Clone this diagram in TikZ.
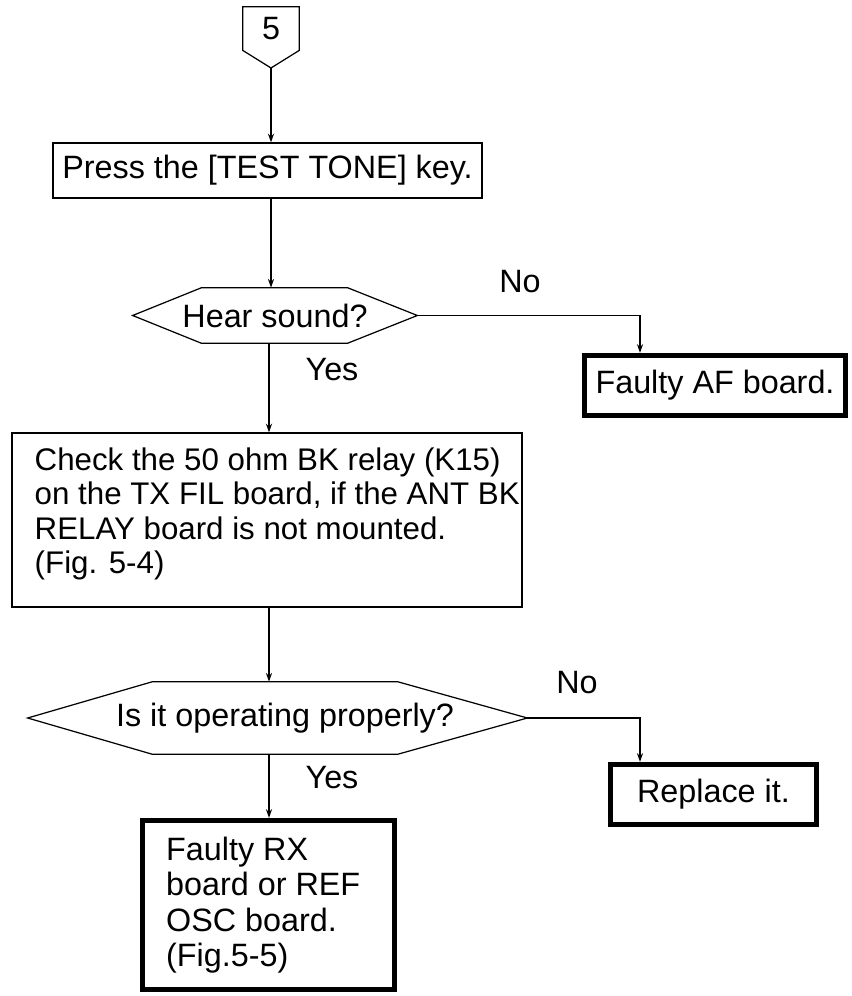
\documentclass[tikz,border=0pt]{standalone}
\usepackage{fontspec}
\setmainfont{Liberation Sans}
\usetikzlibrary{arrows.meta}
\begin{document}
\begin{tikzpicture}[x=0.02cm,y=-0.02cm,
  every node/.style={font=\fontsize{18.4}{20}\selectfont, inner sep=0pt},
  smalltext/.style={font=\fontsize{17.8}{19.6}\selectfont},
  thinbox/.style={draw, line width=0.7pt},
  thickbox/.style={draw, line width=3pt},
  ln/.style={line width=0.7pt},
  arr/.style={ln, -{Stealth[length=5pt,width=3.5pt]}}]
\useasboundingbox (0,0) rectangle (851,996);

% off-page connector
\node[minimum width=56*0.02cm, minimum height=43*0.02cm] (c5) at (271,28.5) {5};
\coordinate (c5tip) at (271,68);
\draw[ln] (c5.north west) -- (c5.north east) -- (c5.south east) -- (c5tip) -- (c5.south west) -- cycle;

\coordinate (colL) at (269,0);
\coordinate (colR) at (640,0);

% box 1
\node[thinbox, minimum width=429*0.02cm, minimum height=55*0.02cm] (b1) at (267.5,170.5) {Press the [TEST TONE] key.};

% decision 1
\node[minimum width=284*0.02cm, minimum height=55*0.02cm] (d1) at (275,315.5) {Hear sound?};
\draw[ln] (d1.west) -- ([xshift=69*0.02cm]d1.north west) -- ([xshift=-70*0.02cm]d1.north east) -- (d1.east)
  -- ([xshift=-70*0.02cm]d1.south east) -- ([xshift=69*0.02cm]d1.south west) -- cycle;

% faulty AF
\node[thickbox, minimum width=261*0.02cm, minimum height=60*0.02cm] (af) at (715,385.5) {Faulty AF board.};

% box 2
\node[thinbox, minimum width=510*0.02cm, minimum height=174*0.02cm] (b2) at (267,520) {};
\node[smalltext, anchor=west, align=left] (b2t) at ([xshift=23*0.02cm, yshift=6*0.02cm]b2.west)
  {Check the 50 ohm BK relay (K15)\\on the TX FIL board, if the ANT BK\\RELAY board is not mounted.\\(Fig. 5-4)};

% decision 2
\node[minimum width=499*0.02cm, minimum height=72*0.02cm] (d2) at (277.5,718) {};
\node (d2t) at (285,718) {Is it operating properly?};
\draw[ln] (d2.west) -- ([xshift=125*0.02cm]d2.north west) -- ([xshift=-130*0.02cm]d2.north east) -- (d2.east)
  -- ([xshift=-130*0.02cm]d2.south east) -- ([xshift=125*0.02cm]d2.south west) -- cycle;

% replace it
\node[thickbox, minimum width=206*0.02cm, minimum height=60*0.02cm] (rp) at (713.5,794.5) {Replace it.};

% faulty RX
\node[thickbox, minimum width=252*0.02cm, minimum height=169*0.02cm] (b3) at (268.5,905) {};
\node[anchor=west, align=left, font=\fontsize{18.4}{20.2}\selectfont] (b3t) at ([xshift=26*0.02cm]b3.west)
  {Faulty RX\\board or REF\\OSC board.\\(Fig.5-5)};

% labels
\node (no1) at (520,282) {No};
\node (yes1) at (332,370) {Yes};
\node (no2) at (577,683) {No};
\node (yes2) at (332,778) {Yes};

% connectors
\draw[arr] (c5tip) -- (c5tip |- b1.north);
\draw[arr] (c5tip |- b1.south) -- (c5tip |- d1.north);
\draw[arr] (d1.east) -| (colR |- af.north);
\draw[arr] (d1.south -| colL) -- (colL |- b2.north);
\draw[arr] (b2.south -| colL) -- (colL |- d2.north);
\draw[arr] (d2.east) -| (colR |- rp.north);
\draw[arr] (d2.south -| colL) -- (colL |- b3.north);
\end{tikzpicture}
\end{document}
